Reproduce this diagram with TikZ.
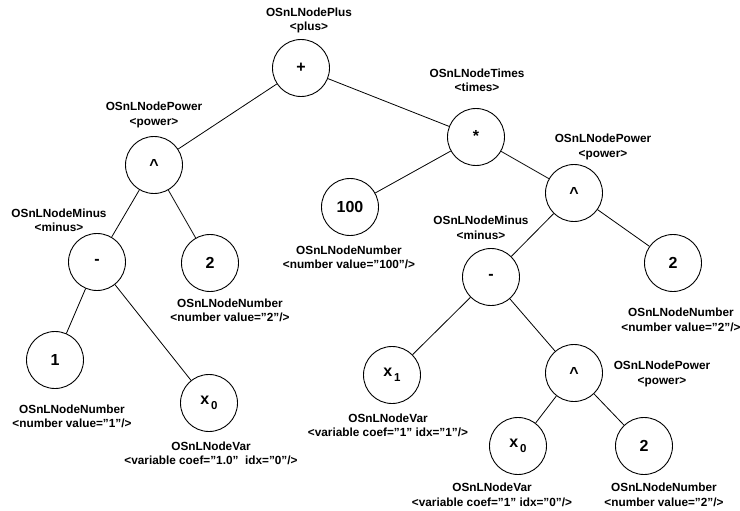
\documentclass[tikz,border=0pt]{standalone}
\usepackage{fontspec}
\setmainfont{Liberation Sans}[Ligatures=ResetAll]
\begin{document}
\begin{tikzpicture}[x=1pt,y=-1pt,
  opnode/.style={circle,draw,line width=0.9pt,minimum size=57pt,inner sep=0pt,font=\fontsize{16}{16}\selectfont\bfseries},
  lbl/.style={align=center,inner sep=0pt,font=\fontsize{11.8}{14.5}\selectfont\bfseries},
  edge/.style={line width=0.8pt}]
\useasboundingbox (0,0) rectangle (740,511);
\newcommand{\xsub}[1]{x\raisebox{-4.5pt}{\fontsize{11.5}{11.5}\selectfont\,#1}}
% nodes
\node[opnode] (plus) at (301,68) {+};
\node[opnode] (pow1) at (154,165) {\raisebox{-4pt}{\textasciicircum}};
\node[opnode] (min1) at (97,262) {-};
\node[opnode] (two1) at (210,263) {2};
\node[opnode] (one) at (55,360) {1};
\node[opnode] (xa) at (209,403) {\xsub{0}};
\node[opnode] (times) at (476,137) {\raisebox{2pt}{*}};
\node[opnode] (hund) at (350,207) {100};
\node[opnode] (pow2) at (574,193) {\raisebox{-4pt}{\textasciicircum}};
\node[opnode] (two2) at (673,263) {2};
\node[opnode] (min2) at (491,277) {-};
\node[opnode] (xb) at (392,375) {\xsub{1}};
\node[opnode] (pow3) at (574,373) {\raisebox{-4pt}{\textasciicircum}};
\node[opnode] (xc) at (518,446) {\xsub{0}};
\node[opnode] (two3) at (644,446) {2};
% edges
\draw[edge] (plus) -- (pow1);
\draw[edge] (plus) -- (times);
\draw[edge] (pow1) -- (min1);
\draw[edge] (pow1) -- (two1);
\draw[edge] (min1) -- (one);
\draw[edge] (min1) -- (xa);
\draw[edge] (times) -- (hund);
\draw[edge] (times) -- (pow2);
\draw[edge] (pow2) -- (min2);
\draw[edge] (pow2) -- (two2);
\draw[edge] (min2) -- (xb);
\draw[edge] (min2) -- (pow3);
\draw[edge] (pow3) -- (xc);
\draw[edge] (pow3) -- (two3);
% labels
\node[lbl] (lplus) at (309,20.5) {OSnLNodePlus\\<plus>};
\node[lbl] (lpow1) at (154,115) {OSnLNodePower\\<power>};
\node[lbl] (lmin1) at (59,220.5) {OSnLNodeMinus\\<minus>};
\node[lbl] (ltimes) at (477,80.5) {OSnLNodeTimes\\<times>};
\node[lbl] (lpow2) at (603,147) {OSnLNodePower\\<power>};
\node[lbl] (lmin2) at (481,228) {OSnLNodeMinus\\<minus>};
\node[lbl] (lhund) at (349,257.5) {OSnLNodeNumber\\<number value="100"/>};
\node[lbl] (ltwo1) at (230,310.5) {OSnLNodeNumber\\<number value="2"/>};
\node[lbl] (ltwo2) at (681,320) {OSnLNodeNumber\\<number value="2"/>};
\node[lbl] (lone) at (72,416.5) {OSnLNodeNumber\\<number value="1"/>};
\node[lbl] (lxa) at (211,453.5) {OSnLNodeVar\\<variable coef="1.0"\ \ idx="0"/>};
\node[lbl] (lxb) at (388,425.5) {OSnLNodeVar\\<variable coef="1" idx="1"/>};
\node[lbl] (lpow3) at (662,374) {OSnLNodePower\\<power>};
\node[lbl] (lxc) at (492,495) {OSnLNodeVar\\<variable coef="1" idx="0"/>};
\node[lbl] (ltwo3) at (664,495) {OSnLNodeNumber\\<number value="2"/>};
\end{tikzpicture}
\end{document}
